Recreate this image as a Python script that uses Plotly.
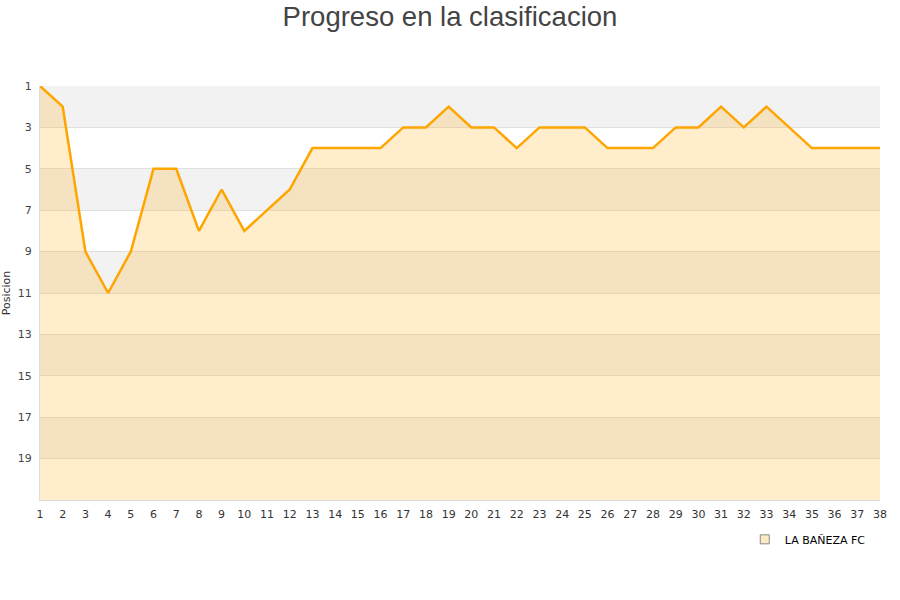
import plotly.graph_objects as go

jornadas = list(range(1, 39))
posiciones = [1, 2, 9, 11, 9, 5, 5, 8, 6, 8, 7, 6, 4, 4, 4, 4, 3, 3, 2, 3,
              3, 4, 3, 3, 3, 4, 4, 4, 3, 3, 2, 3, 2, 3, 4, 4, 4, 4]
equipo = "LA BAÑEZA FC"
y_ticks = list(range(1, 20, 2))
bands = [(1, 3), (5, 7), (9, 11), (13, 15), (17, 19)]
n_equipos = 21

fig = go.Figure()
# baseline for fill (bottom of chart)
fig.add_trace(go.Scatter(x=jornadas, y=[n_equipos] * len(jornadas), mode="lines",
                         line=dict(width=0), showlegend=False, hoverinfo="skip"))
fig.add_trace(go.Scatter(x=jornadas, y=posiciones, mode="lines", name=equipo,
                         line=dict(color="#FFA500", width=2.5),
                         fill="tonexty", fillcolor="rgba(255,165,0,0.2)",
                         showlegend=False))
fig.add_trace(go.Scatter(x=[None], y=[None], mode="markers", name=equipo,
                         marker=dict(symbol="square", size=9, color="#fde9c6",
                                     line=dict(color="#888", width=1))))

shapes = []
for a, b in bands:
    shapes.append(dict(type="rect", xref="paper", yref="y", x0=0, x1=1, y0=a, y1=b,
                       fillcolor="#f2f2f2", line=dict(width=0), layer="below"))

fig.update_layout(
    width=900, height=600,
    title=dict(text="Progreso en la clasificacion", x=0.5, xanchor="center", y=0.988,
               yanchor="top", font=dict(family="Liberation Sans, Arial", size=27.5, color="#444")),
    paper_bgcolor="white", plot_bgcolor="white",
    margin=dict(l=40, r=20, t=86, b=100),
    shapes=shapes,
    font=dict(family="DejaVu Sans, Arial", size=11, color="#444"),
    xaxis=dict(range=[1, 38], tickmode="array", tickvals=jornadas, showgrid=False,
               showline=True, linecolor="#ddd", linewidth=1, zeroline=False,
               ticks="", tickfont=dict(size=11, color="#333"), automargin=False,
               ticklabelstandoff=4),
    yaxis=dict(range=[n_equipos, 1], tickmode="array", tickvals=y_ticks,
               showgrid=True, gridcolor="#e0e0e0", gridwidth=1, zeroline=False,
               showline=True, linecolor="#ddd", linewidth=1, ticks="",
               title=dict(text="Posicion", font=dict(size=11, color="#333"), standoff=4),
               tickfont=dict(size=11, color="#444"), automargin=False,
               ticklabelstandoff=5),
    legend=dict(x=0.989, y=-0.06, xanchor="right", yanchor="top",
                font=dict(size=11, color="#000"), bgcolor="rgba(0,0,0,0)"),
)

fig.write_html("out.html", config={"displayModeBar": False},
               post_script="document.body.style.margin='0';")
